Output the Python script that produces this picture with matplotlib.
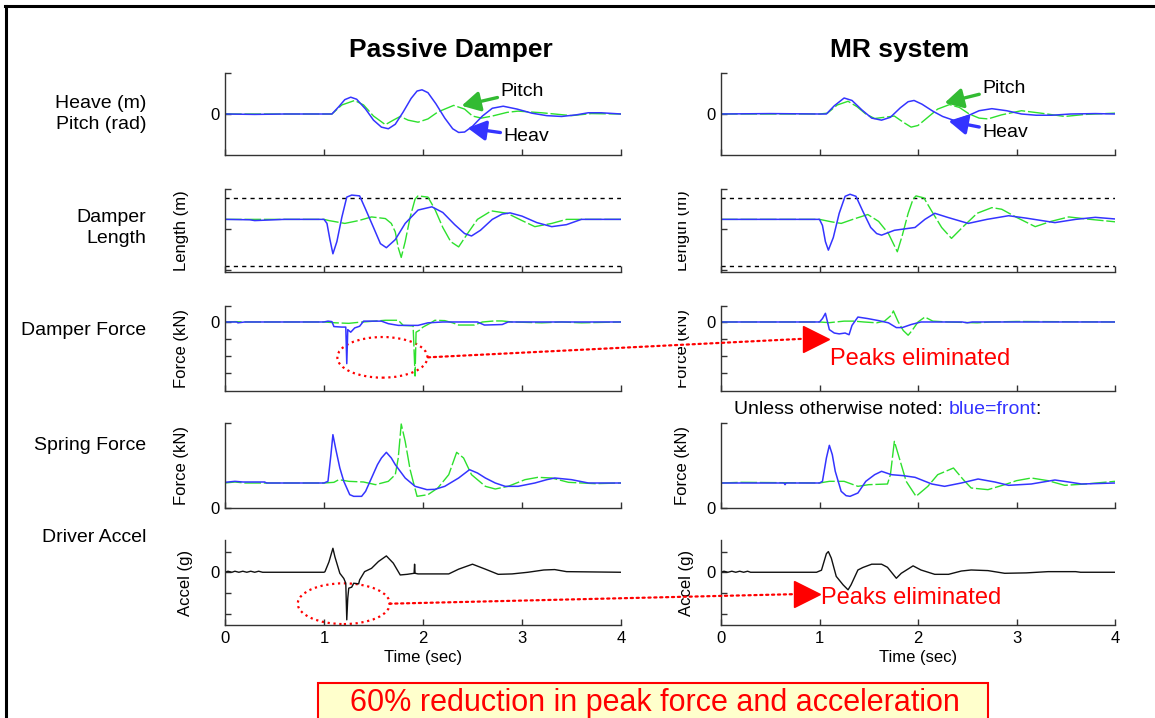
import matplotlib.pyplot as plt
from matplotlib.patches import Ellipse, Rectangle, ConnectionPatch
from matplotlib.lines import Line2D
from matplotlib.transforms import Bbox, TransformedBbox

plt.rcParams['font.family'] = ['Liberation Sans', 'DejaVu Sans']
NARROW = ['Liberation Sans Narrow', 'Liberation Sans']

W, H = 1155, 718
BLUE = '#3434ff'
GREEN = '#2de02d'
GREEN_ARROW = '#33bb33'
AXC = '#333333'

# ---------------- data ----------------
# row 1: heave (blue) / pitch (green)
heave_pas_t = [0, 0.3, 0.6, 1.0, 1.08, 1.15, 1.21, 1.27, 1.33, 1.42, 1.50, 1.58, 1.65, 1.72, 1.80, 1.88,
               1.94, 1.99, 2.05, 2.13, 2.22, 2.30, 2.36, 2.42, 2.50, 2.60, 2.70, 2.81, 2.95, 3.10, 3.25,
               3.40, 3.55, 3.67, 3.80, 4.0]
heave_pas = [0, -0.01, 0, 0, 0, 0.18, 0.35, 0.41, 0.36, 0.12, -0.15, -0.32, -0.36, -0.25, 0.05, 0.38,
             0.56, 0.59, 0.52, 0.25, -0.10, -0.36, -0.45, -0.44, -0.30, -0.05, 0.14, 0.19, 0.12, 0.02, -0.04,
             -0.06, -0.02, 0.03, 0.03, 0]
pitch_pas_t = [0, 0.5, 1.0, 1.08, 1.18, 1.31, 1.40, 1.50, 1.62, 1.70, 1.77, 1.85, 1.95, 2.05, 2.15, 2.31,
               2.42, 2.50, 2.59, 2.70, 2.85, 2.96, 3.20, 3.50, 3.70, 4.0]
pitch_pas = [0, 0, 0, 0, 0.22, 0.33, 0.22, -0.05, -0.26, -0.15, -0.06, -0.15, -0.20, -0.12, 0.05, 0.21,
             0.12, -0.05, -0.10, -0.05, 0.04, 0.07, 0.03, -0.04, 0.01, 0]
heave_mr_t = [0, 0.5, 1.0, 1.07, 1.15, 1.25, 1.33, 1.43, 1.53, 1.63, 1.72, 1.82, 1.90, 1.96, 2.04, 2.15,
              2.25, 2.37, 2.50, 2.62, 2.75, 2.90, 3.05, 3.20, 3.36, 3.55, 3.80, 4.0]
heave_mr = [0, 0.01, 0, 0, 0.20, 0.39, 0.33, 0.10, -0.10, -0.15, -0.08, 0.15, 0.30, 0.33, 0.24, 0.07,
            -0.06, -0.16, -0.05, 0.08, 0.13, 0.08, 0, -0.03, -0.03, 0, 0.01, 0]
pitch_mr_t = [0, 1.0, 1.08, 1.18, 1.29, 1.38, 1.47, 1.56, 1.66, 1.76, 1.85, 1.93, 2.00, 2.10, 2.20, 2.32,
              2.42, 2.52, 2.62, 2.71, 2.85, 3.05, 3.25, 3.49, 3.70, 4.0]
pitch_mr = [0, 0, 0.02, 0.22, 0.31, 0.18, 0, -0.11, -0.08, -0.05, -0.20, -0.32, -0.28, -0.08, 0.12, 0.23,
            0.16, 0, -0.10, -0.12, -0.02, 0.08, 0.02, -0.06, -0.01, 0.02]

# row 2: damper length, front (blue) / rear (green), stroke limits
stroke_limits = [0.785, -0.90]
len_front_pas_t = [0, 0.25, 0.3, 0.6, 1.0, 1.03, 1.06, 1.09, 1.13, 1.18, 1.23, 1.28, 1.36, 1.42, 1.50, 1.57,
                   1.63, 1.72, 1.82, 1.95, 2.09, 2.20, 2.32, 2.42, 2.49, 2.58, 2.70, 2.80, 2.88, 3.00, 3.15,
                   3.30, 3.45, 3.60, 4.0]
len_front_pas = [0.25, 0.24, 0.22, 0.25, 0.25, 0.15, -0.25, -0.60, -0.30, 0.30, 0.80, 0.85, 0.83, 0.50, 0.05,
                 -0.35, -0.45, -0.25, 0.15, 0.48, 0.56, 0.42, 0.12, -0.10, -0.16, -0.02, 0.25, 0.38, 0.41,
                 0.33, 0.17, 0.07, 0.12, 0.25, 0.25]
len_rear_pas_t = [0, 1.0, 1.05, 1.12, 1.21, 1.35, 1.48, 1.62, 1.68, 1.72, 1.75, 1.78, 1.82, 1.87, 1.92, 1.95,
                  2.05, 2.12, 2.20, 2.28, 2.36, 2.45, 2.55, 2.69, 2.85, 3.00, 3.13, 3.30, 3.45, 4.0]
len_rear_pas = [0.25, 0.25, 0.22, 0.19, 0.15, 0.22, 0.31, 0.27, 0.15, -0.06, -0.45, -0.69, -0.30, 0.30, 0.75,
                0.83, 0.80, 0.50, 0.05, -0.30, -0.43, -0.10, 0.25, 0.46, 0.40, 0.22, 0.07, 0.15, 0.25, 0.25]
len_front_mr_t = [0, 0.6, 1.0, 1.03, 1.06, 1.09, 1.14, 1.20, 1.26, 1.31, 1.37, 1.44, 1.52, 1.58, 1.63, 1.76,
                  1.97, 2.07, 2.17, 2.30, 2.51, 2.70, 2.92, 3.10, 3.39, 3.60, 3.80, 4.0]
len_front_mr = [0.25, 0.25, 0.25, 0.10, -0.30, -0.51, -0.20, 0.40, 0.82, 0.87, 0.82, 0.45, 0.05, -0.10,
                -0.14, -0.02, 0.05, 0.25, 0.40, 0.30, 0.15, 0.25, 0.34, 0.28, 0.17, 0.25, 0.30, 0.26]
len_rear_mr_t = [0, 1.0, 1.12, 1.22, 1.35, 1.49, 1.60, 1.70, 1.75, 1.79, 1.84, 1.90, 1.95, 1.98, 2.06, 2.14,
                 2.24, 2.34, 2.45, 2.60, 2.75, 2.85, 3.00, 3.19, 3.35, 3.53, 3.75, 4.0]
len_rear_mr = [0.25, 0.25, 0.19, 0.15, 0.26, 0.37, 0.20, -0.10, -0.35, -0.55, -0.15, 0.40, 0.75, 0.83, 0.78,
               0.45, 0.05, -0.22, 0.05, 0.40, 0.54, 0.50, 0.30, 0.07, 0.20, 0.31, 0.25, 0.19]

# row 3: damper force
dforce_front_pas_t = [0, 0.12, 0.13, 0.2, 1.0, 1.04, 1.08, 1.10, 1.18, 1.22, 1.23, 1.24, 1.27, 1.31, 1.36,
                      1.40, 1.50, 1.58, 1.65, 1.75, 1.95, 2.05, 2.20, 2.55, 2.62, 2.80, 2.86, 4.0]
dforce_front_pas = [0, 0, -0.05, 0, 0, 0.05, 0.02, -0.27, -0.30, -0.30, -2.45, -0.45, -0.60, -0.35, -0.25,
                    0.05, 0.05, 0.05, -0.10, -0.20, -0.20, -0.05, 0, 0, -0.18, -0.15, 0, 0]
dforce_rear_pas_t = [0, 0.1, 0.2, 1.0, 1.12, 1.25, 1.35, 1.62, 1.75, 1.80, 1.90, 1.92, 1.93, 1.96, 2.00,
                     2.08, 2.12, 2.22, 2.30, 2.36, 2.52, 2.60, 2.72, 2.80, 2.90, 3.20, 3.40, 3.60, 4.0]
dforce_rear_pas = [0, 0.02, 0, 0, -0.05, -0.08, -0.02, 0.10, 0.10, -0.20, -0.23, -3.18, -0.60, -0.50, -0.30,
                   -0.05, 0.10, 0.08, -0.05, -0.18, -0.18, 0, 0.06, 0.06, 0, -0.05, 0, -0.05, 0]
dforce_front_mr_t = [0, 1.0, 1.03, 1.06, 1.10, 1.15, 1.20, 1.26, 1.30, 1.33, 1.39, 1.49, 1.60, 1.70, 1.78,
                     1.84, 1.93, 2.03, 2.45, 2.50, 2.55, 4.0]
dforce_front_mr = [0, 0, 0.20, 0.51, -0.45, -0.65, -0.70, -0.65, -0.75, -0.20, 0.29, 0.20, 0.08, -0.05,
                   -0.33, -0.33, -0.15, 0, 0, -0.05, 0, 0]
dforce_rear_mr_t = [0, 1.0, 1.10, 1.25, 1.35, 1.45, 1.58, 1.66, 1.73, 1.75, 1.80, 1.85, 1.90, 1.94, 2.00,
                    2.07, 2.15, 2.30, 2.60, 2.75, 3.00, 4.0]
dforce_rear_mr = [0, 0, -0.04, 0.05, 0.05, 0, -0.05, 0.05, 0.40, 0.65, 0, -0.50, -0.78, -0.50, 0, 0.29,
                  0.05, 0, -0.05, 0, 0.03, 0]

# row 4: spring force
sforce_front_pas_t = [0, 0.10, 0.18, 0.40, 0.42, 1.0, 1.04, 1.07, 1.09, 1.12, 1.16, 1.20, 1.26, 1.30, 1.38,
                      1.42, 1.48, 1.54, 1.58, 1.63, 1.68, 1.72, 1.82, 1.92, 2.04, 2.12, 2.22, 2.36, 2.47,
                      2.55, 2.63, 2.73, 2.83, 2.96, 3.13, 3.25, 3.33, 3.50, 3.67, 4.0]
sforce_front_pas = [0.77, 0.80, 0.78, 0.78, 0.75, 0.75, 0.80, 1.60, 2.20, 1.75, 1.20, 0.80, 0.40, 0.35, 0.35,
                    0.50, 0.90, 1.30, 1.50, 1.67, 1.50, 1.30, 0.90, 0.65, 0.55, 0.56, 0.65, 0.90, 1.15,
                    1.05, 0.90, 0.75, 0.65, 0.65, 0.75, 0.85, 0.90, 0.85, 0.75, 0.75]
sforce_rear_pas_t = [0, 0.1, 0.2, 1.0, 1.10, 1.15, 1.25, 1.40, 1.52, 1.65, 1.72, 1.75, 1.78, 1.82, 1.87,
                     1.90, 1.94, 2.05, 2.15, 2.26, 2.34, 2.41, 2.49, 2.63, 2.73, 2.86, 3.03, 3.16, 3.30,
                     3.47, 3.74, 4.0]
sforce_rear_pas = [0.75, 0.78, 0.75, 0.75, 0.77, 0.85, 0.80, 0.78, 0.70, 0.80, 1.00, 1.50, 2.52, 2.00, 1.15,
                   0.80, 0.35, 0.40, 0.60, 1.00, 1.67, 1.50, 1.00, 0.65, 0.57, 0.65, 0.85, 0.92, 0.90,
                   0.77, 0.73, 0.75]
sforce_front_mr_t = [0, 0.64, 0.65, 0.66, 1.0, 1.03, 1.07, 1.10, 1.13, 1.16, 1.22, 1.27, 1.31, 1.39, 1.47,
                     1.56, 1.63, 1.73, 1.85, 1.97, 2.14, 2.27, 2.44, 2.61, 2.78, 2.92, 3.15, 3.39, 3.53,
                     3.66, 4.0]
sforce_front_mr = [0.75, 0.75, 0.70, 0.75, 0.75, 0.80, 1.50, 1.88, 1.60, 1.10, 0.50, 0.37, 0.35, 0.45, 0.80,
                   1.00, 1.10, 1.00, 0.97, 0.92, 0.72, 0.65, 0.75, 0.87, 0.78, 0.68, 0.72, 0.84, 0.78,
                   0.72, 0.75]
sforce_rear_mr_t = [0, 0.2, 1.0, 1.10, 1.25, 1.39, 1.50, 1.69, 1.72, 1.76, 1.81, 1.88, 1.98, 2.10, 2.20,
                    2.36, 2.46, 2.54, 2.71, 2.88, 3.00, 3.15, 3.32, 3.49, 3.70, 4.0]
sforce_rear_mr = [0.75, 0.77, 0.75, 0.80, 0.80, 0.65, 0.70, 0.72, 1.00, 2.00, 1.50, 0.80, 0.35, 0.65, 1.00,
                  1.20, 0.85, 0.60, 0.55, 0.70, 0.82, 0.90, 0.82, 0.68, 0.72, 0.80]

# row 5: driver acceleration
accel_pas_t = [0, 0.03, 0.07, 0.10, 0.14, 0.18, 0.22, 0.26, 0.30, 0.34, 0.38, 0.40, 1.0, 1.01, 1.05, 1.09,
               1.11, 1.16, 1.20, 1.22, 1.23, 1.24, 1.25, 1.28, 1.30, 1.35, 1.36, 1.41, 1.48, 1.55, 1.63,
               1.70, 1.77, 1.84, 1.91, 1.915, 1.92, 1.95, 2.26, 2.36, 2.50, 2.63, 2.76, 2.90, 3.06, 3.22,
               3.33, 3.45, 4.0]
accel_pas = [0, 0.05, 0, 0.05, 0, 0.05, 0, 0.05, 0, 0.05, 0, 0, 0, 0.03, 0.50, 1.16, 0.75, -0.05, -0.30,
             -0.53, -2.30, -1.26, -0.77, -0.72, -0.53, -0.56, -0.37, 0.03, 0.19, 0.52, 0.79, 0.44, -0.13,
             -0.10, -0.05, 0.39, -0.05, -0.08, -0.08, 0.15, 0.39, 0.15, -0.10, -0.08, 0, 0.11, 0.13, 0.03, 0]
accel_mr_t = [0, 0.03, 0.07, 0.11, 0.15, 0.19, 0.23, 0.27, 0.30, 0.97, 1.02, 1.07, 1.09, 1.12, 1.17, 1.24,
              1.29, 1.32, 1.39, 1.44, 1.53, 1.63, 1.69, 1.78, 1.83, 1.95, 2.03, 2.17, 2.31, 2.44, 2.54,
              2.71, 2.88, 3.10, 3.32, 3.60, 3.65, 4.0]
accel_mr = [0, 0.05, 0, 0.05, 0, 0.05, 0, 0.05, 0, 0, 0.10, 0.90, 1.00, 0.68, -0.20, -0.61, -0.85, -0.61,
            0.11, 0.23, 0.39, 0.39, 0.24, -0.29, -0.05, 0.31, 0.11, -0.10, -0.10, 0.06, 0.11, 0.08, -0.05,
            -0.03, 0.03, 0.03, 0, 0]

time_ticks = [0, 1, 2, 3, 4]

# ---------------- figure ----------------
fig = plt.figure(figsize=(W / 100, H / 100), dpi=100)


def px_axes(x0, y0, x1, y1):
    return fig.add_axes([x0 / W, 1 - y1 / H, (x1 - x0) / W, (y1 - y0) / H])


def style(ax, ylim, yticks, ylabels, ylabel=None, lab_x=-0.09, xlabels=False):
    ax.set_xlim(0, 4)
    ax.set_ylim(*ylim)
    for s in ('top', 'right'):
        ax.spines[s].set_visible(False)
    for s in ('left', 'bottom'):
        ax.spines[s].set_color(AXC)
        ax.spines[s].set_linewidth(1.0)
    ax.set_xticks(time_ticks)
    ax.set_yticks(yticks, ylabels)
    ax.tick_params(direction='in', length=4, width=1, color=AXC, labelsize=12, pad=4)
    for lab in ax.get_xticklabels() + ax.get_yticklabels():
        lab.set_family(NARROW)
    if not xlabels:
        ax.set_xticklabels([])
    else:
        ax.set_xlabel('Time (sec)', fontsize=12, family=NARROW, labelpad=3)
    if ylabel:
        ax.set_ylabel(ylabel, fontsize=12, family=NARROW)
        ax.yaxis.set_label_coords(lab_x, 0.5)
    ax.patch.set_alpha(0)


def green(ax, t, v):
    ax.plot(t, v, color=GREEN, lw=1.0, dashes=(12, 2))


def blue(ax, t, v):
    ax.plot(t, v, color=BLUE, lw=1.1)


rows = [(73, 155), (189, 272), (306, 391), (423, 508), (540, 625)]
cols = [(225, 621), (721, 1115)]
axs = [[px_axes(c[0], r[0], c[1], r[1]) for c in cols] for r in rows]

for j, lx in enumerate([-0.09, -0.078]):
    a1, a2, a3, a4, a5 = [axs[i][j] for i in range(5)]
    style(a1, (-1, 1), [0, 1], ['0', ''])
    style(a2, (-1.05, 1.0), [-1, 0, 1], ['', '', ''], 'Length (m)', lx)
    style(a3, (-4.06, 0.94), [-3, -2, -1, 0, 0.94], ['', '', '', '0', ''], 'Force (kN)', lx)
    style(a4, (0, 2.55), [0, 2.55], ['0', ''], 'Force (kN)', lx)
    style(a5, (-2.55, 1.56), [-2, -1, 0, 1], ['', '', '0', ''], 'Accel (g)', lx + 0.01, xlabels=True)
    for y in stroke_limits:
        a2.axhline(y, color='black', lw=1.0, dashes=(3, 3))

L = [axs[i][0] for i in range(5)]
R = [axs[i][1] for i in range(5)]

green(L[0], pitch_pas_t, pitch_pas)
blue(L[0], heave_pas_t, heave_pas)
green(R[0], pitch_mr_t, pitch_mr)
blue(R[0], heave_mr_t, heave_mr)
green(L[1], len_rear_pas_t, len_rear_pas)
blue(L[1], len_front_pas_t, len_front_pas)
green(R[1], len_rear_mr_t, len_rear_mr)
blue(R[1], len_front_mr_t, len_front_mr)
green(L[2], dforce_rear_pas_t, dforce_rear_pas)
blue(L[2], dforce_front_pas_t, dforce_front_pas)
green(R[2], dforce_rear_mr_t, dforce_rear_mr)
blue(R[2], dforce_front_mr_t, dforce_front_mr)
green(L[3], sforce_rear_pas_t, sforce_rear_pas)
blue(L[3], sforce_front_pas_t, sforce_front_pas)
green(R[3], sforce_rear_mr_t, sforce_rear_mr)
blue(R[3], sforce_front_mr_t, sforce_front_mr)
L[4].plot(accel_pas_t, accel_pas, color='#111111', lw=1.0)
R[4].plot(accel_mr_t, accel_mr, color='#111111', lw=1.0)

# clipped y labels on the right column (overlapped in the original slide)
clip = TransformedBbox(Bbox([[678 / W, 0], [1, 1]]), fig.transFigure)
for ax in (R[1], R[2]):
    ax.yaxis.label.set_clip_box(clip)
    ax.yaxis.label.set_clip_on(True)

# Pitch / Heav arrows
for ax, pitch_xy, pitch_txt, heav_xy, heav_txt in [
        (L[0], (2.39, 0.20), (2.78, 0.54), (2.45, -0.34), (2.81, -0.54)),
        (R[0], (2.27, 0.27), (2.65, 0.63), (2.31, -0.17), (2.65, -0.44))]:
    ax.annotate('Pitch', xy=pitch_xy, xytext=pitch_txt, fontsize=14, va='center', ha='left',
                arrowprops=dict(arrowstyle='-|>,head_length=0.55,head_width=0.3', color=GREEN_ARROW,
                                lw=2.4, mutation_scale=20, shrinkA=0, shrinkB=0))
    ax.annotate('Heav', xy=heav_xy, xytext=heav_txt, fontsize=14, va='center', ha='left',
                arrowprops=dict(arrowstyle='-|>,head_length=0.55,head_width=0.3', color=BLUE,
                                lw=2.4, mutation_scale=20, shrinkA=0, shrinkB=0))

# "Peaks eliminated" callouts
for axl, axr, ell, start, end, tri, txt in [
        (L[2], R[2], (1.59, -2.08, 0.91, 2.39), (2.05, -2.08), (0.83, -0.99), (0.96, -0.99), (1.11, -2.15)),
        (L[4], R[4], (1.20, -1.52, 0.93, 1.97), (1.66, -1.52), (0.74, -1.06), (0.87, -1.06), (1.02, -1.24))]:
    axl.add_patch(Ellipse(ell[:2], ell[2], ell[3], fill=False, ec='red', ls=':', lw=1.6, clip_on=False))
    fig.add_artist(ConnectionPatch(xyA=start, coordsA=axl.transData, xyB=end, coordsB=axr.transData,
                                   color='red', ls=':', lw=1.6))
    axr.plot(*tri, marker='>', ms=19, color='red', clip_on=False, zorder=6)
    axr.text(*txt, 'Peaks eliminated', color='red', fontsize=17, va='center', ha='left')

# titles and row labels
fig.text(451 / W, 1 - 50 / H, 'Passive Damper', fontsize=19, fontweight='bold', ha='center', va='center')
fig.text(900 / W, 1 - 50 / H, 'MR system', fontsize=19, fontweight='bold', ha='center', va='center')
row_labels = ['Heave (m)\nPitch (rad)', 'Damper\nLength', 'Damper Force', 'Spring Force', 'Driver Accel']
row_label_y = [114, 228, 331, 445, 538]
for lab, y in zip(row_labels, row_label_y):
    fig.text(146 / W, 1 - y / H, lab, fontsize=14, ha='right', va='center', multialignment='right',
             linespacing=1.35)

ty = 1 - 410 / H
t1 = fig.text(734 / W, ty, 'Unless otherwise noted: ', fontsize=14, va='center')
t2 = fig.text(0, 0, 'blue=front', fontsize=14, color=BLUE, va='center')
t3 = fig.text(0, 0, ':', fontsize=14, va='center')
fig.canvas.draw()
r = fig.canvas.get_renderer()
b1 = t1.get_window_extent(r)
t2.set_position((b1.x1 / W, ty))
b2 = t2.get_window_extent(r)
t3.set_position(((b2.x1 - 1) / W, ty))

# bottom summary box
fig.add_artist(Rectangle((318 / W, -0.1), 670 / W, 0.1 + 1 - 683 / H, transform=fig.transFigure,
                         fc='#ffffcc', ec='red', lw=1.5))
fig.text(654.5 / W, 1 - 711 / H, '60% reduction in peak force and acceleration', color='red', fontsize=22,
         ha='center', va='baseline')

# slide frame
fig.add_artist(Line2D([6 / W, 6 / W], [0, 1 - 6 / H], transform=fig.transFigure, color='black', lw=2.2))
fig.add_artist(Line2D([5 / W, 1], [1 - 6 / H, 1 - 6 / H], transform=fig.transFigure, color='black', lw=2.2))

fig.savefig('out.png', dpi=100)
